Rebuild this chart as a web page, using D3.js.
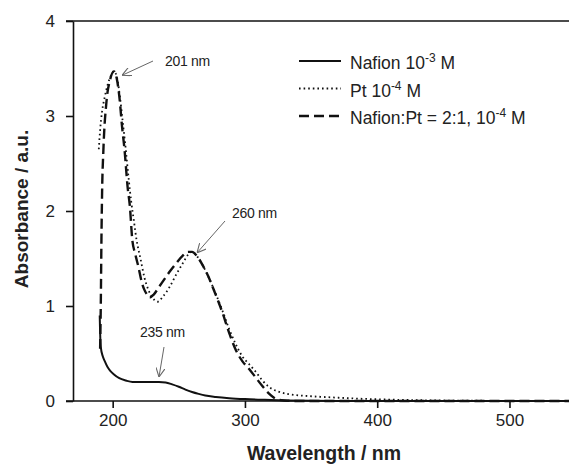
<!DOCTYPE html>
<html><head><meta charset="utf-8">
<script src="https://cdn.jsdelivr.net/npm/d3@7"></script>
<style>body{margin:0;background:#fff}svg{display:block}text{font-family:"Liberation Sans",Arial,sans-serif}</style>
</head><body><svg id="c" width="569" height="467"></svg>
<script>
const xTicks = [200, 300, 400, 500];
const yTicks = [0, 1, 2, 3, 4];

const nafionX = [190.2,190.5,191,192.5,194,196,198,201,205,210,215,225,235,240,245,250,255,260,265,270,278,288,300,315,330,350,400,545];
const nafionY = [0.9,0.72,0.57,0.47,0.42,0.36,0.32,0.28,0.24,0.215,0.2,0.2,0.2,0.195,0.175,0.15,0.12,0.095,0.075,0.058,0.043,0.03,0.02,0.012,0.006,0.002,0,0];

const ptX = [189.5,190.5,192,194,196,198.5,201,203,205.5,207.5,209.5,212,214,216,218,221,224,227,230,234,238,243,248,253,257,260,264,268,272,277,283,288,293,298,303,308,313,318,325,332,338,350,363,380,400,425,451,485,545];
const ptY = [2.65,2.85,3.05,3.2,3.32,3.42,3.47,3.42,3.2,2.95,2.7,2.35,2.1,1.9,1.7,1.5,1.3,1.17,1.09,1.045,1.1,1.2,1.33,1.45,1.54,1.57,1.52,1.43,1.32,1.16,0.95,0.76,0.6,0.47,0.39,0.31,0.22,0.15,0.1,0.075,0.063,0.05,0.04,0.028,0.018,0.01,0.005,0.002,0];

const mixX = [190.5,191,191.5,192,193,195.3,198,201,203,205.3,207,209,211.3,213,214.8,217,219.5,222,224,226,228,231,235,239,243,248,253,257,260,264,268,272,277,283,288,293,298,303,308,313,318,322,326,330,340,400,545];
const mixY = [0.55,1.0,1.7,2.2,2.65,3.15,3.38,3.47,3.4,3.17,2.9,2.64,2.25,2.05,1.7,1.55,1.41,1.25,1.17,1.12,1.09,1.12,1.2,1.28,1.36,1.45,1.53,1.57,1.57,1.52,1.43,1.32,1.15,0.93,0.72,0.54,0.42,0.34,0.25,0.16,0.08,0.035,0.012,0.005,0,0,0];

const legendLabels = [["Nafion 10", "-3", " M"], ["Pt 10", "-4", " M"], ["Nafion:Pt = 2:1, 10", "-4", " M"]];
const annotations = [
  {label: "201 nm", wl: 201, ab: 3.47},
  {label: "260 nm", wl: 260, ab: 1.57},
  {label: "235 nm", wl: 235, ab: 0.2}
];

const svg = d3.select("#c");
const x = d3.scaleLinear().domain([170, 545]).range([73, 569]);
const y = d3.scaleLinear().domain([0, 4]).range([401, 21]);
const ink = "#111";

// axes
const gx = svg.append("g").attr("transform", "translate(0,401)")
  .call(d3.axisBottom(x).tickValues(xTicks).tickFormat(d3.format("d")).tickSize(7).tickPadding(6).tickSizeOuter(0));
gx.select(".domain").attr("d", `M66,0H569`);
const gy = svg.append("g").attr("transform", "translate(73,0)")
  .call(d3.axisLeft(y).tickValues(yTicks).tickFormat(d3.format("d")).tickSize(7).tickPadding(11).tickSizeOuter(0));
svg.append("line").attr("x1", 66).attr("x2", 569).attr("y1", y(4)).attr("y2", y(4)).attr("stroke", ink).attr("stroke-width", 1.6);
[gx, gy].forEach(g => {
  g.selectAll("path,line").attr("stroke", ink).attr("stroke-width", 1.6);
  g.selectAll("text").attr("font-size", 17).attr("fill", "#222").style("font-family", '"Liberation Sans",Arial,sans-serif');
});

svg.append("text").attr("x", 324).attr("y", 460).attr("text-anchor", "middle")
  .attr("font-size", 19.5).attr("font-weight", "bold").attr("fill", "#222").text("Wavelength / nm");
svg.append("text").attr("transform", "translate(28,209) rotate(-90)").attr("text-anchor", "middle")
  .attr("font-size", 19).attr("font-weight", "bold").attr("fill", "#222").text("Absorbance / a.u.");

// curves
const line = d3.line().x(d => x(d[0])).y(d => y(d[1])).curve(d3.curveMonotoneX);
const series = [
  {xs: nafionX, ys: nafionY, dash: null, w: 2},
  {xs: ptX, ys: ptY, dash: "1.6,3", w: 1.8},
  {xs: mixX, ys: mixY, dash: "10,5", w: 2.4}
];
series.forEach(s => {
  svg.append("path").datum(s.xs.map((v, i) => [v, s.ys[i]]))
    .attr("d", line).attr("fill", "none").attr("stroke", ink)
    .attr("stroke-width", s.w).attr("stroke-dasharray", s.dash);
});

// legend
const lg = svg.append("g");
legendLabels.forEach((lab, i) => {
  const yy = 61 + i * 27.5;
  lg.append("line").attr("x1", 299).attr("x2", 341).attr("y1", yy).attr("y2", yy)
    .attr("stroke", ink).attr("stroke-width", series[i].w).attr("stroke-dasharray", series[i].dash);
  const t = lg.append("text").attr("x", 350).attr("y", yy + 8).attr("font-size", 17.5).attr("fill", "#222");
  t.append("tspan").text(lab[0]);
  t.append("tspan").attr("font-size", 12).attr("dy", -7).text(lab[1]);
  t.append("tspan").attr("dy", 7).text(lab[2]);
});

// annotations
const defs = svg.append("defs");
defs.append("marker").attr("id", "ah").attr("viewBox", "0 0 10 10").attr("refX", 10).attr("refY", 5)
  .attr("markerWidth", 9).attr("markerHeight", 9).attr("orient", "auto").attr("markerUnits", "userSpaceOnUse")
  .append("path").attr("d", "M0,0L10,5L0,10").attr("fill", "none").attr("stroke", "#666").attr("stroke-width", 1.2);
const annPos = [
  {tx: 165, ty: 66, x1: 153, y1: 61, dx: 8, dy: 4},
  {tx: 232, ty: 218, x1: 225, y1: 221, dx: 5, dy: 1},
  {tx: 140, ty: 337, x1: 164, y1: 347, dx: 0, dy: -5}
];
annotations.forEach((a, i) => {
  const p = annPos[i];
  svg.append("text").attr("x", p.tx).attr("y", p.ty).attr("font-size", 14).attr("fill", "#222")
    .attr("letter-spacing", -0.3).text(a.label);
  svg.append("line").attr("x1", p.x1).attr("y1", p.y1)
    .attr("x2", x(a.wl) + p.dx).attr("y2", y(a.ab) + p.dy)
    .attr("stroke", "#666").attr("stroke-width", 1).attr("marker-end", "url(#ah)");
});
</script></body></html>
